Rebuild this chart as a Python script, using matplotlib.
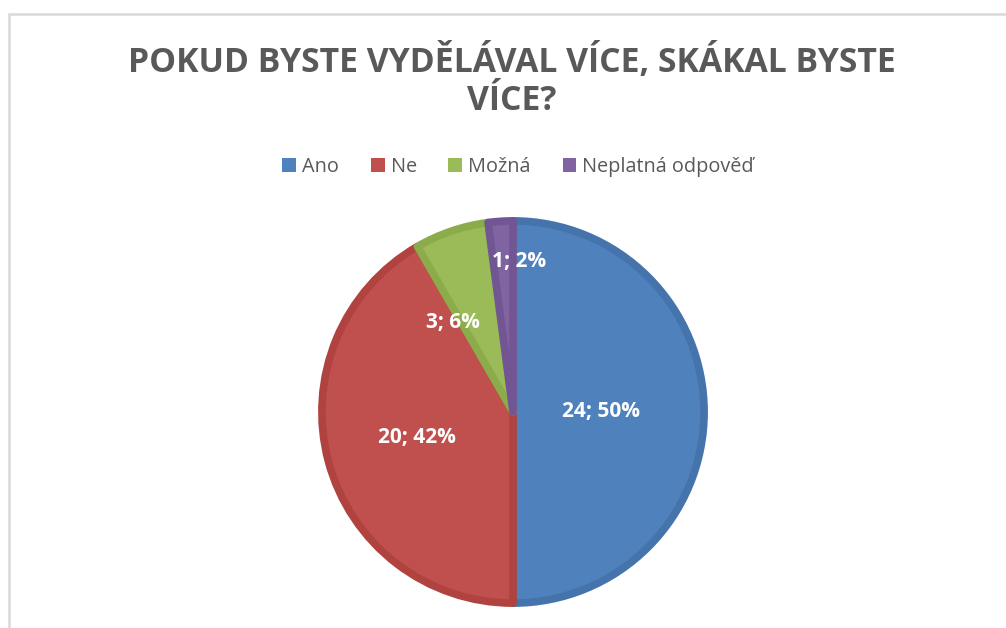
import matplotlib.pyplot as plt
from matplotlib.patches import Rectangle
import numpy as np

# data
categories = ["Ano", "Ne", "Možná", "Neplatná odpověď"]
counts = [24, 20, 3, 1]
fill_colors = ["#4F81BD", "#C0504D", "#9BBB59", "#8064A2"]
rim_colors = ["#4573AC", "#B0433F", "#8CAC4B", "#725693"]
title = "POKUD BYSTE VYDĚLÁVAL VÍCE, SKÁKAL BYSTE\nVÍCE?"

plt.rcParams['font.family'] = ['Open Sans', 'DejaVu Sans']

fig = plt.figure(figsize=(10.06, 6.28), dpi=100)

# light frame around the chart area
fig.add_artist(Rectangle((9 / 1006, -0.05), 1.1, 1 - 14 / 628 + 0.05,
                         transform=fig.transFigure, fill=False,
                         edgecolor="#D9D9D9", linewidth=1.8))

fig.text(0.509, 1 - 44 / 628, title, ha='center', va='top',
         fontsize=24.3, fontweight='bold', color='#595959', linespacing=1.17)

ax = fig.add_axes([318 / 1006, 21 / 628, 390 / 1006, 390 / 628])
wedges, _ = ax.pie(counts, colors=fill_colors, startangle=90, counterclock=False,
                   radius=0.98, wedgeprops=dict(linewidth=5.5, joinstyle='round'))
for w, ec in zip(wedges, rim_colors):
    w.set_edgecolor(ec)
ax.set_xlim(-1, 1)
ax.set_ylim(-1, 1)
ax.set_aspect('equal')
ax.axis('off')

# data labels "count; pct"
total = sum(counts)
label_r = [0.45, 0.51, 0.55, 0.77]
angle_shift = [0, 0, 15, -6]
for w, c, r, da in zip(wedges, counts, label_r, angle_shift):
    mid = np.deg2rad((w.theta1 + w.theta2) / 2 + da)
    ax.text(r * np.cos(mid), r * np.sin(mid), f"{c}; {round(100 * c / total)}%",
            ha='center', va='center', color='white', fontsize=15, fontweight='bold')

handles = [Rectangle((0, 0), 1, 1, facecolor=c) for c in fill_colors]
fig.legend(handles, categories, loc='center', bbox_to_anchor=(0.515, 1 - 167 / 628),
           ncol=4, frameon=False, fontsize=14.3, labelcolor='#595959',
           handlelength=0.7, handleheight=0.7, handletextpad=0.3, columnspacing=1.6)

fig.savefig("out.png", dpi=100)
